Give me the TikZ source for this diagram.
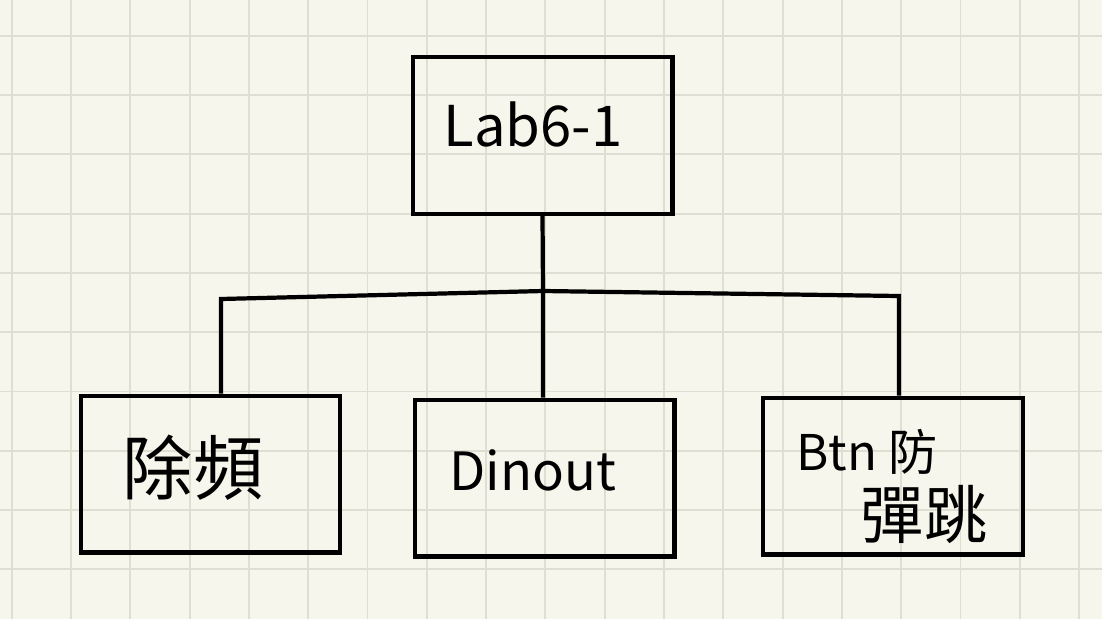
\documentclass[tikz,border=0pt]{standalone}
\usepackage{fontspec}
\newfontfamily\tcfont{Noto Sans CJK TC}
\definecolor{paper}{RGB}{246,246,236}
\definecolor{gridline}{RGB}{222,222,210}
\tikzset{
  blockbox/.style={draw, line width=2.3pt, minimum width=5.2cm, minimum height=3.14cm, inner sep=0pt},
  wire/.style={line width=2.4pt},
  label/.style={inner sep=0pt, font=\tcfont}
}
\begin{document}
\begin{tikzpicture}[x=0.02cm,y=-0.02cm]
\fill[paper] (0,0) rectangle (1102,619);
\useasboundingbox (0,0) rectangle (1102,619);
% squared paper
\foreach \k in {0,...,18}
  \draw[gridline, line width=1.1pt] ({11.7+59.3*\k},0) -- ({11.7+59.3*\k},619);
\foreach \k in {0,...,9}
  \draw[gridline, line width=1.1pt] (0,{35.7+59.3*\k}) -- (1102,{35.7+59.3*\k});
% blocks
\node[blockbox] (top) at (542.5,135.5) {};
\node[blockbox] (div) at (210.5,474) {};
\node[blockbox] (dinout) at (544.5,478) {};
\node[blockbox] (btn) at (893,476) {};
\node[label, font=\tcfont\fontsize{32}{38}\selectfont] (toptxt) at (533,124) {Lab6-1};
\node[label, font=\tcfont\fontsize{40}{46}\selectfont] (divtxt) at (193,468) {除頻};
\node[label, font=\tcfont\fontsize{30}{36}\selectfont] (dintxt) at (533,470) {Dinout};
\node[label, font=\tcfont\fontsize{28}{34}\selectfont] (btntxt) at (867,452) {Btn 防};
\node[label, font=\tcfont\fontsize{36}{42}\selectfont] (bouncetxt) at (924,514) {彈跳};
% tree
\coordinate (busL) at (221,299);
\coordinate (busM) at (543,291);
\coordinate (busR) at (899,296);
\draw[wire] (top.south) -- (busM) -- (busM |- dinout.north);
\draw[wire] (busL |- div.north) -- (busL) -- (busM) -- (busR) -- (busR |- btn.north);
\end{tikzpicture}
\end{document}
